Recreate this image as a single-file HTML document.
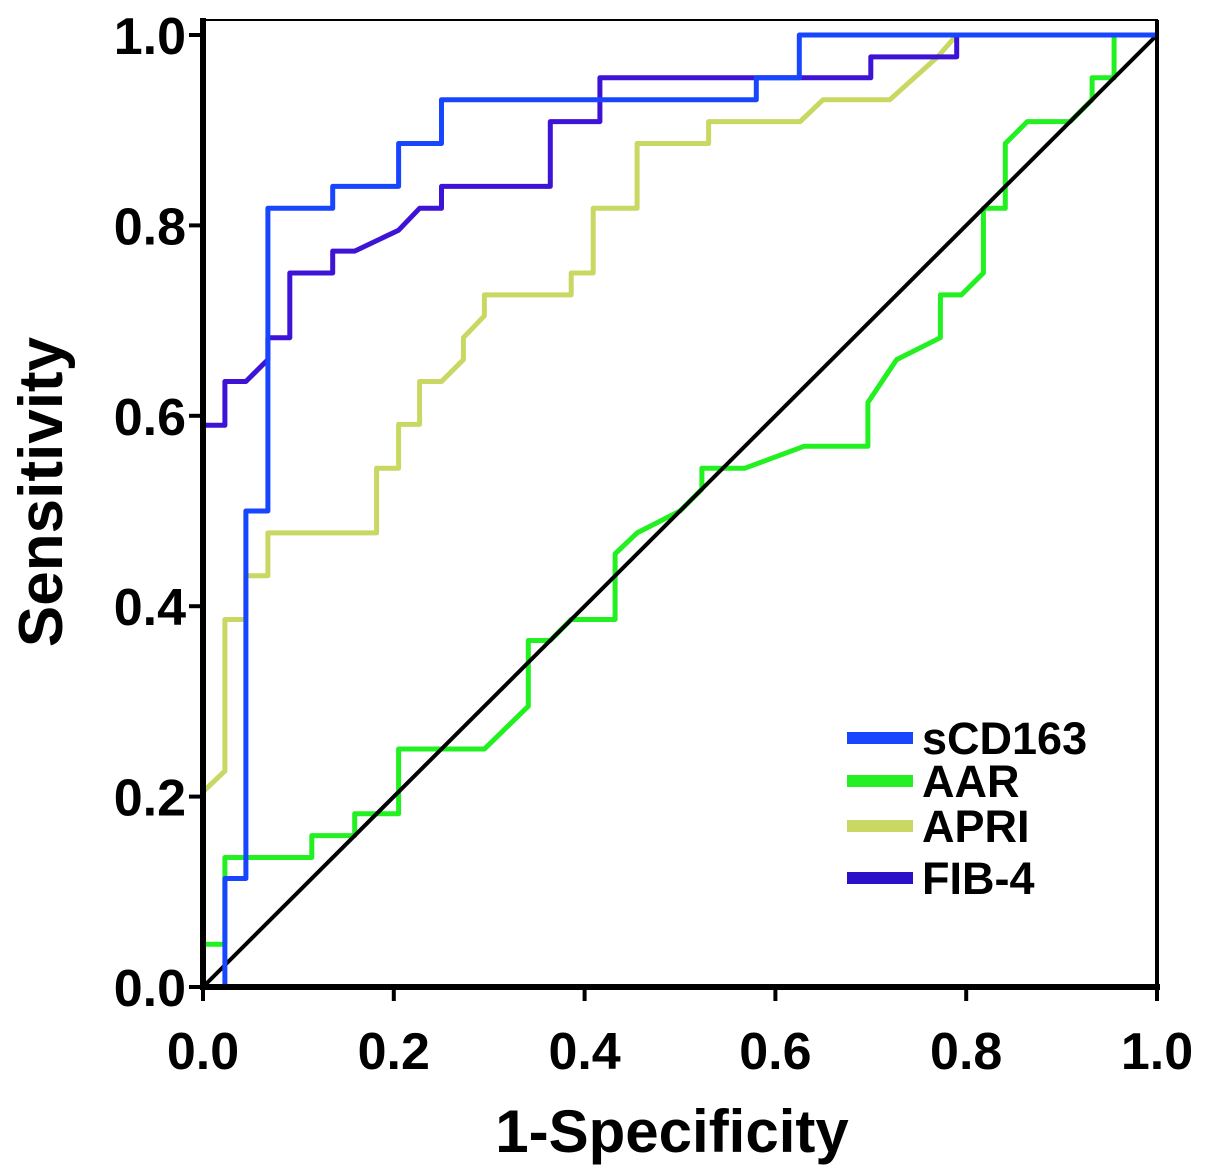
<!DOCTYPE html>
<html><head><meta charset="utf-8"><style>
html,body{margin:0;padding:0;background:#fff;}
svg{display:block;font-family:"Liberation Sans",Arial,sans-serif;font-weight:bold;}
</style></head><body>
<svg id="chart" width="1205" height="1175" viewBox="0 0 1205 1175" xmlns="http://www.w3.org/2000/svg">
<g id="marks"></g>
<g id="axes"></g>
</svg>
<script>
const xTicks=[0,0.2,0.4,0.6,0.8,1.0];
const yTicks=[0,0.2,0.4,0.6,0.8,1.0];
const seriesNames=["sCD163","AAR","APRI","FIB-4"];
const sCD163X=[0.023,0.023,0.045,0.045,0.068,0.068,0.136,0.136,0.205,0.205,0.25,0.25,0.58,0.58,0.625,0.625,1];
const sCD163Y=[0,0.114,0.114,0.5,0.5,0.818,0.818,0.841,0.841,0.886,0.886,0.932,0.932,0.955,0.955,1,1];
const fib4X=[0,0,0.023,0.023,0.045,0.068,0.068,0.091,0.091,0.136,0.136,0.159,0.205,0.227,0.25,0.25,0.364,0.364,0.416,0.416,0.7,0.7,0.79,0.79,1];
const fib4Y=[0,0.59,0.59,0.636,0.636,0.659,0.682,0.682,0.75,0.75,0.773,0.773,0.795,0.818,0.818,0.841,0.841,0.909,0.909,0.955,0.955,0.977,0.977,1,1];
const apriX=[0,0.023,0.023,0.045,0.045,0.068,0.068,0.182,0.182,0.205,0.205,0.227,0.227,0.25,0.273,0.273,0.295,0.295,0.386,0.386,0.409,0.409,0.455,0.455,0.53,0.53,0.626,0.65,0.72,0.77,0.79,1];
const apriY=[0.205,0.227,0.386,0.386,0.432,0.432,0.477,0.477,0.545,0.545,0.591,0.591,0.636,0.636,0.659,0.682,0.705,0.727,0.727,0.75,0.75,0.818,0.818,0.886,0.886,0.909,0.909,0.932,0.932,0.977,1,1];
const aarX=[0,0.023,0.023,0.114,0.114,0.159,0.159,0.205,0.205,0.295,0.341,0.341,0.364,0.386,0.432,0.432,0.455,0.5,0.523,0.523,0.568,0.63,0.697,0.697,0.727,0.773,0.773,0.795,0.818,0.818,0.841,0.841,0.864,0.909,0.932,0.932,0.955,0.955,1];
const aarY=[0.045,0.045,0.136,0.136,0.159,0.159,0.182,0.182,0.25,0.25,0.295,0.364,0.364,0.386,0.386,0.455,0.477,0.5,0.523,0.545,0.545,0.568,0.568,0.614,0.659,0.682,0.727,0.727,0.75,0.818,0.818,0.886,0.909,0.909,0.932,0.955,0.955,1,1];
const refX=[0,1];
const refY=[0,1];

const NS="http://www.w3.org/2000/svg";
const X0=203,X1=1157,Y0=987,Y1=35;
function sx(v){return X0+(X1-X0)*v;}
function sy(v){return Y0-(Y0-Y1)*v;}
function mk(tag,attrs,parent){const e=document.createElementNS(NS,tag);for(const k in attrs)e.setAttribute(k,attrs[k]);parent.appendChild(e);return e;}
const marks=document.getElementById('marks');
const axes=document.getElementById('axes');

function drawLine(xs,ys,color,w,name){
  let d=xs.map((x,i)=>(i?'L':'M')+sx(x).toFixed(1)+','+sy(ys[i]).toFixed(1)).join(' ');
  const p=mk('path',{d:d,fill:'none',stroke:color,'stroke-width':w,'stroke-linejoin':'round'},marks);
  
  
}
drawLine(aarX,aarY,'#22f020',5,'aar-curve');
drawLine(apriX,apriY,'#c8d862',5,'apri-curve');
drawLine(refX,refY,'#000',4,'reference-line');
drawLine(fib4X,fib4Y,'#3d14d6',5,'fib4-curve');
drawLine(sCD163X,sCD163Y,'#1846ff',5,'scd163-curve');

const fr=mk('rect',{x:X0,y:20,width:X1-X0,height:Y0-20,fill:'none',stroke:'#000','stroke-width':2},axes);


const ya=mk('line',{x1:X0,y1:18,x2:X0,y2:Y0+3,stroke:'#000','stroke-width':6},axes);


const xa=mk('line',{x1:X0-3,y1:Y0,x2:X1+3,y2:Y0,stroke:'#000','stroke-width':6},axes);


const ra=mk('line',{x1:X1,y1:20,x2:X1,y2:Y0,stroke:'#000','stroke-width':4},axes);



xTicks.forEach(v=>{
  const t=mk('line',{x1:sx(v),y1:Y0,x2:sx(v),y2:Y0+14,stroke:'#000','stroke-width':4},axes);
  
  
  const l=mk('text',{x:sx(v),y:1069,'text-anchor':'middle','font-size':52,fill:'#000'},axes);
  l.textContent=v.toFixed(1);
  
  
});
yTicks.forEach(v=>{
  const t=mk('line',{x1:X0-14,y1:sy(v),x2:X0,y2:sy(v),stroke:'#000','stroke-width':4},axes);
  
  
  const l=mk('text',{x:186,y:sy(v)+19,'text-anchor':'end','font-size':52,fill:'#000'},axes);
  l.textContent=v.toFixed(1);
  
  
});
const xt=mk('text',{x:672,y:1152,'text-anchor':'middle','font-size':60,fill:'#000'},axes);
xt.textContent='1-Specificity';


const yt=mk('text',{x:0,y:0,'text-anchor':'middle','font-size':62,fill:'#000',transform:'translate(62,492) rotate(-90)'},axes);
yt.textContent='Sensitivity';



const legColors=['#1846ff','#22f020','#c8d862','#2a10c8'];
const legY=[738,781,826,878];
seriesNames.forEach((n,i)=>{
  const g=mk('g',{},axes);
  
  
  mk('rect',{x:847,y:legY[i]-6,width:66,height:12,fill:legColors[i]},g);
  const t=mk('text',{x:922,y:legY[i]+16,'font-size':45,fill:'#000'},g);
  t.textContent=n;
});
</script>
</body></html>
